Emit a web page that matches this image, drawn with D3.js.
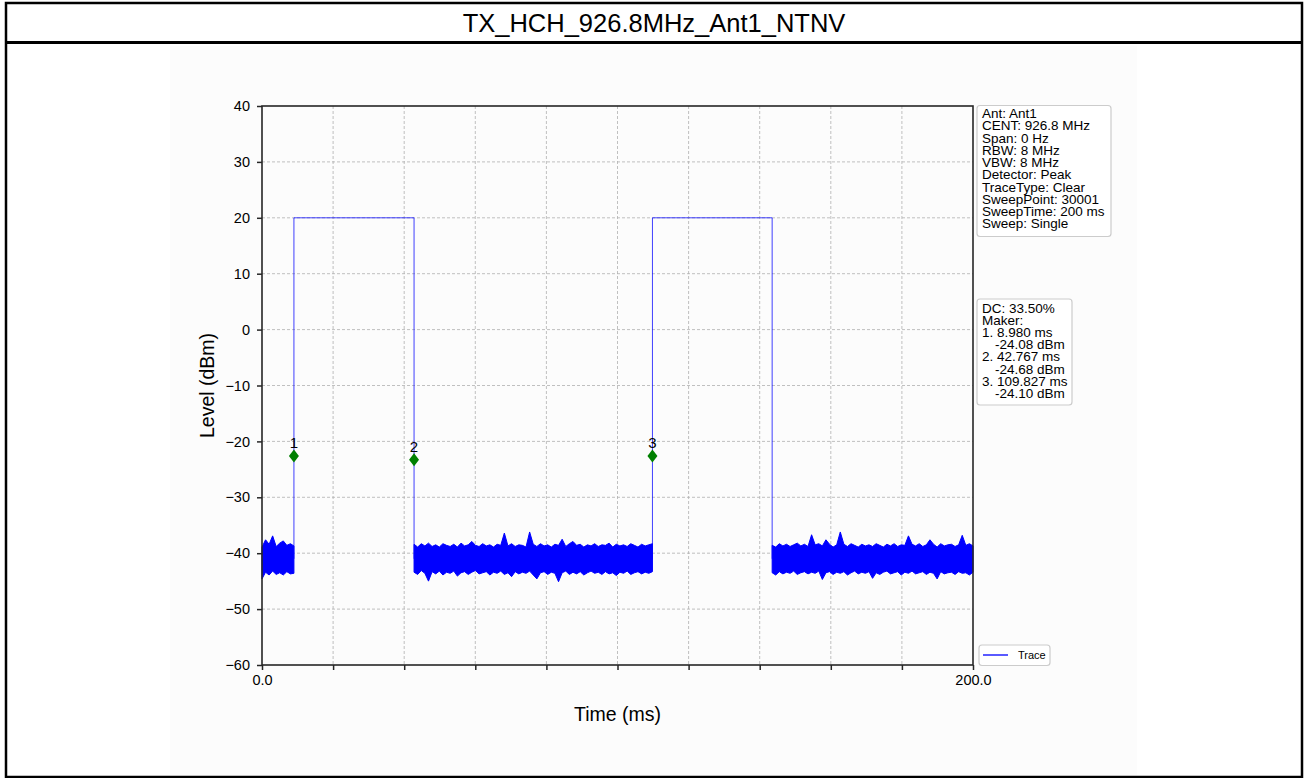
<!DOCTYPE html>
<html>
<head>
<meta charset="utf-8">
<script src="https://cdn.jsdelivr.net/npm/d3@7"></script>
<style>
  html, body { margin: 0; padding: 0; background: #ffffff; }
  svg { display: block; font-family: "Liberation Sans", Arial, sans-serif; }
</style>
</head>
<body>
<svg id="chart" width="1308" height="778"></svg>
<script>
// ---------------- DATA ----------------
const chartTitle = "TX_HCH_926.8MHz_Ant1_NTNV";
const xLabel = "Time (ms)";
const yLabel = "Level (dBm)";
const xDomain = [0, 200];
const yDomain = [-60, 40];
const xTickValues = [0, 20, 40, 60, 80, 100, 120, 140, 160, 180, 200];
const xTickLabels = ["0.0", "", "", "", "", "", "", "", "", "", "200.0"];
const yTickValues = [-60, -50, -40, -30, -20, -10, 0, 10, 20, 30, 40];

// pulse (burst) segments of the trace
const pulseStart = [8.98, 109.83];
const pulseEnd = [42.77, 143.5];
const pulseLevel = 20;
const pulseEdgeLevel = -41;

// noise floor segments (upper / lower envelope of the dense trace)
const noiseSegStart = [0, 42.77, 143.5];
const noiseSegEnd = [8.98, 109.83, 200];
const noiseUpper1 = [-38.9, -37.6, -38.4, -36.9, -38.8, -38.2, -37.8, -38.6, -38.3, -38.7];
const noiseLower1 = [-44.6, -43.4, -43.9, -43.2, -43.8, -43.5, -43.9, -43.3, -43.7, -43.6];
const noiseUpper2 = [
  -38.4,-38.9,-38.3,-38.7,-38.2,-38.8,-38.5,-38.9,-38.3,-38.6,
  -38.8,-38.4,-38.9,-38.2,-38.7,-38.5,-37.9,-38.6,-38.8,-38.3,
  -38.7,-38.5,-38.9,-38.4,-38.6,-36.4,-38.7,-38.3,-38.8,-38.5,
  -38.6,-38.9,-36.2,-38.4,-38.8,-38.3,-38.7,-38.5,-38.9,-38.4,
  -38.6,-37.5,-38.8,-38.3,-37.9,-38.6,-38.4,-38.9,-38.5,-38.7,
  -38.3,-38.8,-38.5,-38.6,-38.2,-38.9,-38.4,-38.7,-38.5,-38.8,
  -38.3,-38.6,-38.9,-38.4,-38.7,-38.5,-38.3];
const noiseLower2 = [
  -43.4,-43.8,-43.1,-43.6,-45.0,-43.3,-43.7,-43.2,-43.9,-43.4,
  -43.6,-43.2,-44.1,-43.5,-43.3,-43.8,-43.4,-43.1,-43.7,-43.5,
  -43.3,-43.9,-43.4,-43.6,-43.2,-43.8,-43.5,-44.2,-43.3,-43.7,
  -43.4,-43.6,-43.2,-43.9,-44.6,-43.5,-43.3,-43.8,-43.4,-43.6,
  -45.1,-43.5,-43.2,-43.8,-43.4,-43.7,-43.3,-43.9,-43.5,-43.2,
  -43.6,-43.4,-43.8,-43.3,-43.7,-43.5,-44.0,-43.4,-43.6,-43.2,
  -43.8,-43.5,-43.3,-43.7,-43.4,-43.6,-43.3];
const noiseUpper3 = [
  -38.6,-38.9,-38.3,-38.7,-38.4,-38.8,-38.5,-38.2,-38.7,-38.4,
  -38.8,-36.7,-38.5,-38.3,-38.7,-37.6,-38.4,-38.9,-38.5,-36.2,
  -38.4,-38.8,-38.3,-38.6,-38.9,-38.4,-38.7,-38.5,-38.8,-38.3,
  -38.6,-38.9,-38.4,-38.7,-38.3,-38.8,-38.5,-38.6,-36.9,-38.4,
  -38.7,-38.3,-38.8,-38.5,-37.6,-38.4,-38.9,-38.3,-38.7,-38.5,
  -38.4,-38.8,-38.5,-36.8,-38.6,-38.3,-38.7];
const noiseLower3 = [
  -43.5,-43.9,-43.3,-43.7,-43.4,-43.6,-43.2,-43.8,-43.5,-43.3,
  -43.7,-43.4,-43.6,-43.2,-44.7,-43.5,-43.3,-43.8,-43.4,-43.6,
  -43.3,-43.9,-43.5,-43.2,-43.7,-43.4,-43.6,-43.3,-44.5,-43.5,
  -43.8,-43.4,-43.2,-43.7,-43.5,-43.3,-43.9,-43.4,-43.6,-43.2,
  -43.7,-43.5,-43.3,-43.8,-43.4,-43.6,-44.6,-43.3,-43.7,-43.5,
  -43.4,-43.8,-43.3,-43.6,-43.5,-43.9,-43.4];

// markers
const markerNames = ["1", "2", "3"];
const markerTimes = [8.98, 42.767, 109.827];
const markerLevels = [-22.6, -23.3, -22.6];

// info boxes
const infoLines = ["Ant: Ant1", "CENT: 926.8 MHz", "Span: 0 Hz", "RBW: 8 MHz", "VBW: 8 MHz",
  "Detector: Peak", "TraceType: Clear", "SweepPoint: 30001", "SweepTime: 200 ms", "Sweep: Single"];
const dcLines = ["DC: 33.50%", "Maker:", "1. 8.980 ms", "-24.08 dBm", "2. 42.767 ms", "-24.68 dBm",
  "3. 109.827 ms", "-24.10 dBm"];
const dcIndent = [false, false, false, true, false, true, false, true];
const legendLabel = "Trace";

// ---------------- DRAWING ----------------
const svg = d3.select("#chart");
const plot = { left: 262, right: 973, top: 106, bottom: 665 };

// outer frame and title row
svg.append("rect").attr("x", 6).attr("y", 3).attr("width", 1296).attr("height", 774)
  .attr("fill", "#ffffff").attr("stroke", "#000").attr("stroke-width", 2.5);
svg.append("line").attr("x1", 6).attr("x2", 1302).attr("y1", 42.5).attr("y2", 42.5)
  .attr("stroke", "#000").attr("stroke-width", 3);
svg.append("text").attr("x", 654).attr("y", 32).attr("text-anchor", "middle")
  .attr("font-size", 25.5).attr("fill", "#000").text(chartTitle);

// figure background
svg.append("rect").attr("x", 170).attr("y", 46).attr("width", 967).attr("height", 729)
  .attr("fill", "#fcfcfc");

const x = d3.scaleLinear().domain(xDomain).range([plot.left, plot.right]);
const y = d3.scaleLinear().domain(yDomain).range([plot.bottom, plot.top]);

// grid
const grid = svg.append("g");
grid.selectAll(".gx").data(xTickValues.slice(1, -1)).join("line")
  .attr("x1", d => x(d)).attr("x2", d => x(d)).attr("y1", plot.top).attr("y2", plot.bottom)
  .attr("stroke", "#b0b0b0").attr("stroke-width", 0.8).attr("stroke-dasharray", "3,2");
grid.selectAll(".gy").data(yTickValues.slice(1, -1)).join("line")
  .attr("y1", d => y(d)).attr("y2", d => y(d)).attr("x1", plot.left).attr("x2", plot.right)
  .attr("stroke", "#b0b0b0").attr("stroke-width", 0.8).attr("stroke-dasharray", "3,2");

// noise segments
const uppers = [noiseUpper1, noiseUpper2, noiseUpper3];
const lowers = [noiseLower1, noiseLower2, noiseLower3];
const area = d3.area().x(d => x(d.t)).y0(d => y(d.lo)).y1(d => y(d.hi));
uppers.forEach((up, k) => {
  const lo = lowers[k];
  const n = up.length;
  const s = noiseSegStart[k], e = noiseSegEnd[k];
  const pts = up.map((v, i) => ({ t: s + (e - s) * i / (n - 1), hi: v, lo: lo[i] }));
  svg.append("path").datum(pts).attr("d", area)
    .attr("fill", "#0000ff").attr("stroke", "#0000ff").attr("stroke-width", 1)
    .attr("stroke-linejoin", "miter");
});

// pulses
const line = d3.line().x(d => x(d[0])).y(d => y(d[1]));
pulseStart.forEach((s, i) => {
  const e = pulseEnd[i];
  const pts = [[s, pulseEdgeLevel], [s, pulseLevel], [e, pulseLevel], [e, pulseEdgeLevel]];
  svg.append("path").datum(pts).attr("d", line)
    .attr("fill", "none").attr("stroke", "#0000ff").attr("stroke-width", 1)
    .attr("stroke-opacity", 0.75);
});

// markers
markerTimes.forEach((t, i) => {
  const mx = x(t), my = y(markerLevels[i]);
  svg.append("path").attr("d", "M0,-6.5L5,0L0,6.5L-5,0Z")
    .attr("transform", `translate(${mx},${my})`).attr("fill", "#008000");
  svg.append("text").attr("x", mx).attr("y", my - 8).attr("text-anchor", "middle")
    .attr("font-size", 15).attr("fill", "#000").text(markerNames[i]);
});

// spines
const spineColor = "#262626";
svg.append("rect").attr("x", plot.left).attr("y", plot.top)
  .attr("width", plot.right - plot.left).attr("height", plot.bottom - plot.top)
  .attr("fill", "none").attr("stroke", spineColor).attr("stroke-width", 1.6);

// x ticks
const xAxis = d3.axisBottom(x).tickValues(xTickValues)
  .tickFormat((d, i) => xTickLabels[i]).tickSize(5).tickPadding(5);
const gx = svg.append("g").attr("transform", `translate(0,${plot.bottom})`).call(xAxis);
gx.select(".domain").remove();
gx.selectAll(".tick line").attr("stroke", spineColor).attr("stroke-width", 1.5);
gx.selectAll(".tick text").attr("font-size", 14.5).attr("fill", "#000")
  .attr("font-family", "'Liberation Sans', Arial, sans-serif");

// y ticks
const yAxis = d3.axisLeft(y).tickValues(yTickValues).tickSize(5).tickPadding(7)
  .tickFormat(d3.format("d"));
const gy = svg.append("g").attr("transform", `translate(${plot.left},0)`).call(yAxis);
gy.select(".domain").remove();
gy.selectAll(".tick line").attr("stroke", spineColor).attr("stroke-width", 1.5);
gy.selectAll(".tick text").attr("font-size", 14.5).attr("fill", "#000")
  .attr("font-family", "'Liberation Sans', Arial, sans-serif");

// axis labels
svg.append("text").attr("x", (plot.left + plot.right) / 2).attr("y", 721)
  .attr("text-anchor", "middle").attr("font-size", 19.5).attr("fill", "#000").text(xLabel);
svg.append("text").attr("transform", `translate(214,${(plot.top + plot.bottom) / 2}) rotate(-90)`)
  .attr("text-anchor", "middle").attr("font-size", 19.5).attr("fill", "#000").text(yLabel);

// info box
function box(x0, y0, w, h) {
  svg.append("rect").attr("x", x0).attr("y", y0).attr("width", w).attr("height", h)
    .attr("rx", 3).attr("fill", "#ffffff").attr("fill-opacity", 0.85)
    .attr("stroke", "#cccccc").attr("stroke-width", 1.2);
}
box(977, 105.5, 134, 131);
svg.append("g").selectAll("text").data(infoLines).join("text")
  .attr("x", 982).attr("y", (d, i) => 118 + i * 12.25)
  .attr("font-size", 13.5).attr("fill", "#000").text(d => d);

box(977, 299, 95, 106);
svg.append("g").selectAll("text").data(dcLines).join("text")
  .attr("x", (d, i) => dcIndent[i] ? 995 : 982).attr("y", (d, i) => 313 + i * 12.1)
  .attr("font-size", 13.5).attr("fill", "#000").text(d => d);

// legend
box(979, 645, 71, 20.5);
svg.append("line").attr("x1", 983).attr("x2", 1008).attr("y1", 655).attr("y2", 655)
  .attr("stroke", "#0000ff").attr("stroke-width", 1.3);
svg.append("text").attr("x", 1018).attr("y", 659).attr("font-size", 11)
  .attr("fill", "#000").text(legendLabel);
</script>
</body>
</html>
